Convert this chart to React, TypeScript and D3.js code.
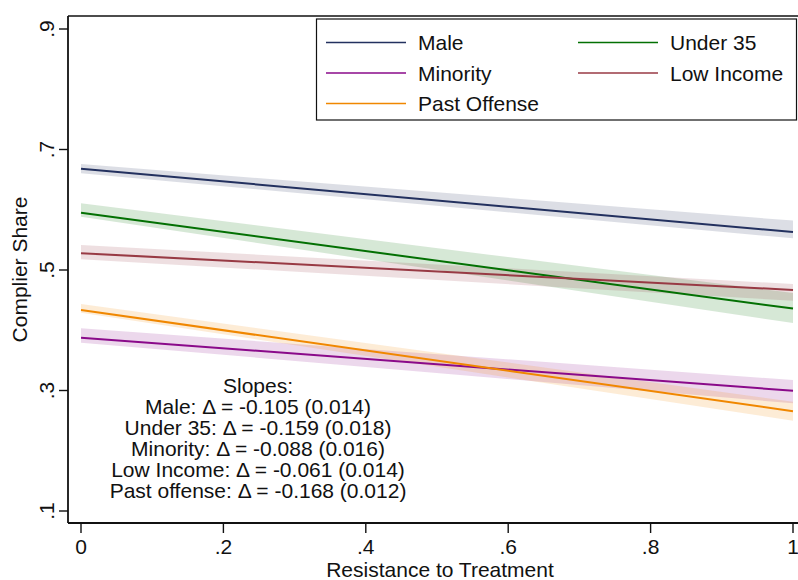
import React from 'react';
import * as d3 from 'd3';

// fitted lines at resistance = 0 and 1, with CI bands
const xVals = [0, 1];
const groups = ['Male', 'Under 35', 'Minority', 'Low Income', 'Past Offense'];
const colors = ['#23315f', '#037003', '#8a0a8a', '#983a44', '#f08700'];
const fitMale = [0.668, 0.563];
const loMale = [0.6605, 0.5526];
const hiMale = [0.676, 0.582];
const fitUnder35 = [0.595, 0.436];
const loUnder35 = [0.5885, 0.412];
const hiUnder35 = [0.6107, 0.4618];
const fitMinority = [0.3876, 0.2996];
const loMinority = [0.3793, 0.2788];
const hiMinority = [0.4032, 0.3174];
const fitLowInc = [0.528, 0.467];
const loLowInc = [0.5178, 0.449];
const hiLowInc = [0.5415, 0.4768];
const fitPast = [0.4336, 0.2656];
const loPast = [0.4291, 0.2499];
const hiPast = [0.4436, 0.2814];

const slopeNames = ['Male', 'Under 35', 'Minority', 'Low Income', 'Past offense'];
const slopes = ['-0.105', '-0.159', '-0.088', '-0.061', '-0.168'];
const slopeSE = ['0.014', '0.018', '0.016', '0.014', '0.012'];

const xTicks = [0, 0.2, 0.4, 0.6, 0.8, 1];
const yTicks = [0.1, 0.3, 0.5, 0.7, 0.9];

const fmt = (v: number) => (v === 0 || v === 1 ? String(v) : String(v).replace(/^0/, ''));

const App = () => {
  const width = 798;
  const height = 580;
  const x = d3.scaleLinear().domain([0, 1]).range([81, 793]);
  const y = d3.scaleLinear().domain([0.1, 0.9]).range([511, 29]);
  const font = '"Liberation Sans", Arial, Helvetica, sans-serif';
  const fs = 21;

  const series = [
    { fit: fitMale, lo: loMale, hi: hiMale },
    { fit: fitUnder35, lo: loUnder35, hi: hiUnder35 },
    { fit: fitMinority, lo: loMinority, hi: hiMinority },
    { fit: fitLowInc, lo: loLowInc, hi: hiLowInc },
    { fit: fitPast, lo: loPast, hi: hiPast },
  ];

  const line = d3
    .line<number>()
    .x((_, i) => x(xVals[i]))
    .y((d) => y(d));

  const bandPath = (lo: number[], hi: number[]) =>
    d3
      .area<number>()
      .x((_, i) => x(xVals[i]))
      .y0((_, i) => y(lo[i]))
      .y1((_, i) => y(hi[i]))(lo) || '';

  const plotLeft = 68;
  const plotTop = 16;
  const plotBottom = 523;

  // legend layout: two columns, male/under35 first row
  const legendItems = [
    { i: 0, col: 0, row: 0 },
    { i: 1, col: 1, row: 0 },
    { i: 2, col: 0, row: 1 },
    { i: 3, col: 1, row: 1 },
    { i: 4, col: 0, row: 2 },
  ];
  const colX = [326, 578];
  const rowY = [42.5, 73, 103.5];

  return (
    <svg width={width} height={height} style={{ display: 'block', position: 'absolute', left: 0, top: 0 }}>
      <rect width={width} height={height} fill="#fff" />
      {series.map((s, k) => (
        <path key={'b' + k} d={bandPath(s.lo, s.hi)} fill={colors[k]} fillOpacity={0.16} stroke="none" />
      ))}
      {series.map((s, k) => (
        <path key={'l' + k} d={line(s.fit) || ''} fill="none" stroke={colors[k]} strokeWidth={2} />
      ))}

      {/* plot frame */}
      <line x1={plotLeft} x2={width + 10} y1={plotTop} y2={plotTop} stroke="#111" strokeWidth={1.6} />
      <line x1={plotLeft} x2={plotLeft} y1={plotTop} y2={plotBottom} stroke="#111" strokeWidth={1.8} />
      <line x1={plotLeft} x2={width + 10} y1={plotBottom} y2={plotBottom} stroke="#111" strokeWidth={1.8} />

      {/* y axis */}
      {yTicks.map((t) => (
        <g key={'y' + t}>
          <line x1={59} x2={plotLeft} y1={y(t)} y2={y(t)} stroke="#111" strokeWidth={1.4} />
          <text
            transform={`translate(47,${y(t)}) rotate(-90)`}
            textAnchor="middle"
            dy="0.35em"
            fontFamily={font}
            fontSize={fs}
            fill="#111"
          >
            {fmt(t)}
          </text>
        </g>
      ))}
      <text
        transform={`translate(20,${(plotTop + plotBottom) / 2}) rotate(-90)`}
        textAnchor="middle"
        dy="0.35em"
        fontFamily={font}
        fontSize={fs}
        fill="#111"
      >
        Complier Share
      </text>

      {/* x axis */}
      {xTicks.map((t) => (
        <g key={'x' + t}>
          <line x1={x(t)} x2={x(t)} y1={plotBottom} y2={533} stroke="#111" strokeWidth={1.4} />
          <text x={x(t)} y={554} textAnchor="middle" fontFamily={font} fontSize={fs} fill="#111">
            {fmt(t)}
          </text>
        </g>
      ))}
      <text x={440} y={577} textAnchor="middle" fontFamily={font} fontSize={fs} fill="#111">
        Resistance to Treatment
      </text>

      {/* legend */}
      <rect x={316.5} y={19} width={480} height={101} fill="#fff" stroke="#111" strokeWidth={1.2} />
      {legendItems.map((it) => (
        <g key={'lg' + it.i}>
          <line
            x1={colX[it.col]}
            x2={colX[it.col] + 80}
            y1={rowY[it.row]}
            y2={rowY[it.row]}
            stroke={colors[it.i]}
            strokeWidth={1.6}
          />
          <text x={colX[it.col] + 92} y={rowY[it.row] + 7.5} fontFamily={font} fontSize={fs} fill="#111">
            {groups[it.i]}
          </text>
        </g>
      ))}

      {/* slopes annotation */}
      <text x={258} y={393} textAnchor="middle" fontFamily={font} fontSize={fs} fill="#111">
        Slopes:
      </text>
      {slopeNames.map((n, i) => (
        <text key={'s' + i} x={258} y={414 + i * 21} textAnchor="middle" fontFamily={font} fontSize={fs} fill="#111">
          {`${n}: \u0394 = ${slopes[i]} (${slopeSE[i]})`}
        </text>
      ))}
    </svg>
  );
};

export default App;
